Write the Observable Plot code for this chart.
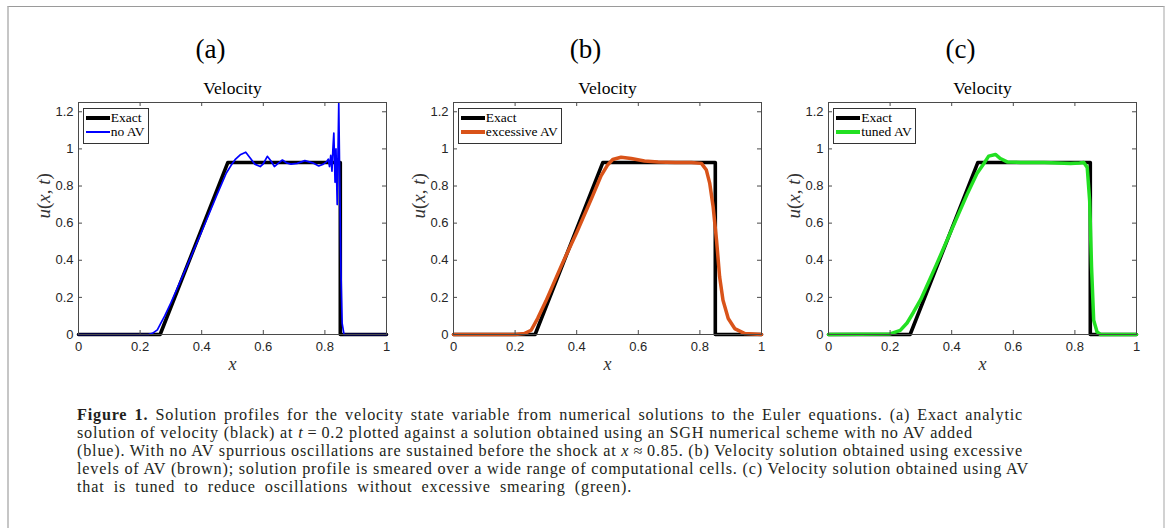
<!DOCTYPE html>
<html>
<head>
<meta charset="utf-8">
<script src="https://cdn.jsdelivr.net/npm/d3@7"></script>
<script src="https://cdn.jsdelivr.net/npm/@observablehq/plot@0.6"></script>
<style>
  html, body { margin: 0; padding: 0; background: #fff; }
  #root { position: relative; width: 1168px; height: 528px; overflow: hidden; background: #fff; }
  .frame { position: absolute; left: 7px; top: 6px; width: 1154px; height: 540px;
           border-left: 2px solid #c6c6c6; border-top: 1px solid #9a9a9a; border-right: 2px solid #d2d2d2; }
  .panel { position: absolute; top: 20px; }
  .legend { position: absolute; top: 108px; background: #fff; border: 1px solid #333;
            padding: 2px 3px 4px 2px; font-family: "Liberation Serif", serif; font-size: 13.5px; color: #000; }
  .legend .row { height: 14px; display: flex; align-items: center; white-space: nowrap; }
  .legend .swatch { width: 24px; margin-right: 1px; }
  .caption { position: absolute; left: 77px; top: 406px; font-family: "Liberation Serif", serif;
             font-size: 16.2px; line-height: 18px; letter-spacing: 0.8px;
             color: #231f20; }
  .caption .ln { height: 18px; white-space: nowrap; text-align: justify; text-align-last: justify; overflow: visible; }
</style>
</head>
<body>
<div id="root">
  <div class="frame"></div>
</div>
<script>
// ---- data ----
const panelLabels = ["(a)", "(b)", "(c)"];
const panelTitle = "Velocity";
const xLabel = "x";
const yLabel = "u(x, t)";
const xTicks = [0, 0.2, 0.4, 0.6, 0.8, 1];
const yTicks = [0, 0.2, 0.4, 0.6, 0.8, 1, 1.2];

const xExact = [0, 0.265, 0.485, 0.85, 0.85, 1];
const uExact = [0, 0, 0.927, 0.927, 0, 0];

const xNoAV = [0, 0.2, 0.228, 0.24, 0.256, 0.267, 0.28, 0.3, 0.35, 0.4,
  0.45, 0.48, 0.495, 0.51, 0.525, 0.543, 0.558, 0.572, 0.59, 0.6,
  0.613, 0.625, 0.636, 0.65, 0.662, 0.675, 0.69, 0.71, 0.735, 0.76,
  0.78, 0.795, 0.805, 0.811, 0.815, 0.819, 0.823, 0.826, 0.829, 0.833,
  0.836, 0.840, 0.845, 0.848, 0.852, 0.856, 0.862, 0.9, 1];
const uNoAV = [0, 0, 0.001, 0.006, 0.025, 0.06, 0.1, 0.17, 0.36, 0.555,
  0.755, 0.87, 0.91, 0.945, 0.968, 0.982, 0.95, 0.918, 0.905, 0.92,
  0.96, 0.935, 0.905, 0.925, 0.94, 0.925, 0.918, 0.922, 0.937, 0.925,
  0.908, 0.918, 0.93, 0.945, 0.905, 0.965, 0.88, 1.0, 1.085, 0.82,
  1.0, 0.70, 1.245, 0.85, 0.35, 0.06, 0, 0, 0];

const xExcessive = [0, 0.2, 0.23, 0.252, 0.273, 0.3, 0.35, 0.4, 0.45, 0.479,
  0.501, 0.517, 0.544, 0.577, 0.62, 0.664, 0.72, 0.772, 0.805, 0.821,
  0.832, 0.843, 0.854, 0.864, 0.875, 0.892, 0.913, 0.946, 1];
const uExcessive = [0, 0, 0.005, 0.023, 0.086, 0.18, 0.37, 0.55, 0.74, 0.855,
  0.915, 0.943, 0.955, 0.948, 0.935, 0.929, 0.927, 0.927, 0.922, 0.886,
  0.814, 0.688, 0.508, 0.311, 0.185, 0.086, 0.032, 0.005, 0];

const xTuned = [0, 0.2, 0.233, 0.255, 0.276, 0.3, 0.35, 0.4, 0.45, 0.482,
  0.504, 0.52, 0.542, 0.558, 0.58, 0.623, 0.7, 0.786, 0.815, 0.829,
  0.84, 0.848, 0.854, 0.861, 0.872, 0.883, 1];
const uTuned = [0, 0.003, 0.022, 0.062, 0.12, 0.19, 0.375, 0.565, 0.755, 0.868,
  0.92, 0.961, 0.97, 0.948, 0.93, 0.927, 0.927, 0.921, 0.924, 0.927,
  0.90, 0.72, 0.365, 0.077, 0.014, 0, 0];

const seriesNames = ["no AV", "excessive AV", "tuned AV"];
const seriesColors = ["#0000ff", "#d95319", "#22e022"];
const exactName = "Exact";

const captionLines = [
  "<b>Figure 1.</b> Solution profiles for the velocity state variable from numerical solutions to the Euler equations. (a) Exact analytic",
  "solution of velocity (black) at <i>t</i>\u2009=\u20090.2 plotted against a solution obtained using an SGH numerical scheme with no AV added",
  "(blue). With no AV spurrious oscillations are sustained before the shock at <i>x</i>\u2009\u2248\u20090.85. (b) Velocity solution obtained using excessive",
  "levels of AV (brown); solution profile is smeared over a wide range of computational cells. (c) Velocity solution obtained using AV",
  "that is tuned to reduce oscillations without excessive smearing (green)."
];

// ---- layout ----
const captionLineWidths = [946, 865, 940, 936, 555];
const seriesWidths = [1.7, 3.5, 3.5];
const plotLefts = [77.7, 452.7, 828.3];
const W = 380, H = 355, mL = 58, mR = 14, mT = 82, mB = 41;
const innerW = W - mL - mR, innerH = H - mT - mB;
const axisColor = "#4a4a4a";
const serif = "'Liberation Serif', serif";

// ---- build ----
const zip = (xs, us) => xs.map((x, i) => ({x, u: us[i]}));
const exact = zip(xExact, uExact);
const numeric = [zip(xNoAV, uNoAV), zip(xExcessive, uExcessive), zip(xTuned, uTuned)];
const root = document.getElementById("root");

for (let i = 0; i < 3; i++) {
  const svg = Plot.plot({
    width: W, height: H,
    marginLeft: mL, marginRight: mR, marginTop: mT, marginBottom: mB,
    style: {fontFamily: "'Liberation Sans', Arial, sans-serif", fontSize: "13px", color: "#262626", background: "transparent", overflow: "visible"},
    x: {domain: [0, 1]},
    y: {domain: [0, 1.25]},
    marks: [
      Plot.line(exact, {x: "x", y: "u", stroke: "#000", strokeWidth: 3.6}),
      Plot.line(numeric[i], {x: "x", y: "u", stroke: seriesColors[i], strokeWidth: seriesWidths[i], strokeLinejoin: "round"}),
      Plot.frame({stroke: axisColor, strokeWidth: 1}),
      Plot.tickX(xTicks, {x: d => d, insetTop: innerH - 4, stroke: axisColor}),
      Plot.tickX(xTicks, {x: d => d, insetBottom: innerH - 4, stroke: axisColor}),
      Plot.tickY(yTicks, {y: d => d, insetRight: innerW - 4, stroke: axisColor}),
      Plot.tickY(yTicks, {y: d => d, insetLeft: innerW - 4, stroke: axisColor}),
      Plot.axisX(xTicks, {tickSize: 0, tickPadding: 7, tickFormat: d => String(d), label: null}),
      Plot.axisY(yTicks, {tickSize: 0, tickPadding: 5, tickFormat: d => String(d), label: null}),
      Plot.text([panelTitle], {frameAnchor: "top", lineAnchor: "middle", dy: -14, text: d => d, fontFamily: serif, fontSize: 17.5, fill: "#000"}),
      Plot.text([panelLabels[i]], {frameAnchor: "top", lineAnchor: "middle", dx: -22, dy: -53, text: d => d, fontFamily: serif, fontSize: 27, fill: "#000"}),
      Plot.text([xLabel], {frameAnchor: "bottom", lineAnchor: "middle", dy: 30, text: d => d, fontFamily: serif, fontStyle: "italic", fontSize: 18, fill: "#333"}),
      Plot.text([yLabel], {frameAnchor: "left", lineAnchor: "middle", dx: -35, rotate: -90, text: d => d, fontFamily: serif, fontSize: 19, fill: "#333"})
    ]
  });
  // math-style y label: italic variables, upright parentheses
  svg.querySelectorAll("text").forEach(t => {
    if (t.textContent === yLabel) {
      t.innerHTML = '<tspan font-style="italic">u</tspan>(<tspan font-style="italic">x</tspan>, <tspan font-style="italic">t</tspan>)';
    }
  });
  const div = document.createElement("div");
  div.className = "panel";
  div.style.left = (plotLefts[i] - mL) + "px";
  div.appendChild(svg);
  root.appendChild(div);

  // legend
  const lg = document.createElement("div");
  lg.className = "legend";
  lg.style.left = (plotLefts[i] + 5) + "px";
  const rows = [[exactName, "#000", 4], [seriesNames[i], seriesColors[i], i === 0 ? 1.7 : 4]];
  rows.forEach(([name, color, w]) => {
    const r = document.createElement("div");
    r.className = "row";
    const sw = document.createElement("div");
    sw.className = "swatch";
    sw.style.height = w + "px";
    sw.style.background = color;
    const tx = document.createElement("span");
    tx.textContent = name;
    r.appendChild(sw); r.appendChild(tx);
    lg.appendChild(r);
  });
  root.appendChild(lg);
}

const cap = document.createElement("div");
cap.className = "caption";
captionLines.forEach((html, k) => {
  const ln = document.createElement("div");
  ln.className = "ln";
  ln.style.width = captionLineWidths[k] + "px";
  ln.innerHTML = html;
  cap.appendChild(ln);
});
root.appendChild(cap);
</script>
</body>
</html>
